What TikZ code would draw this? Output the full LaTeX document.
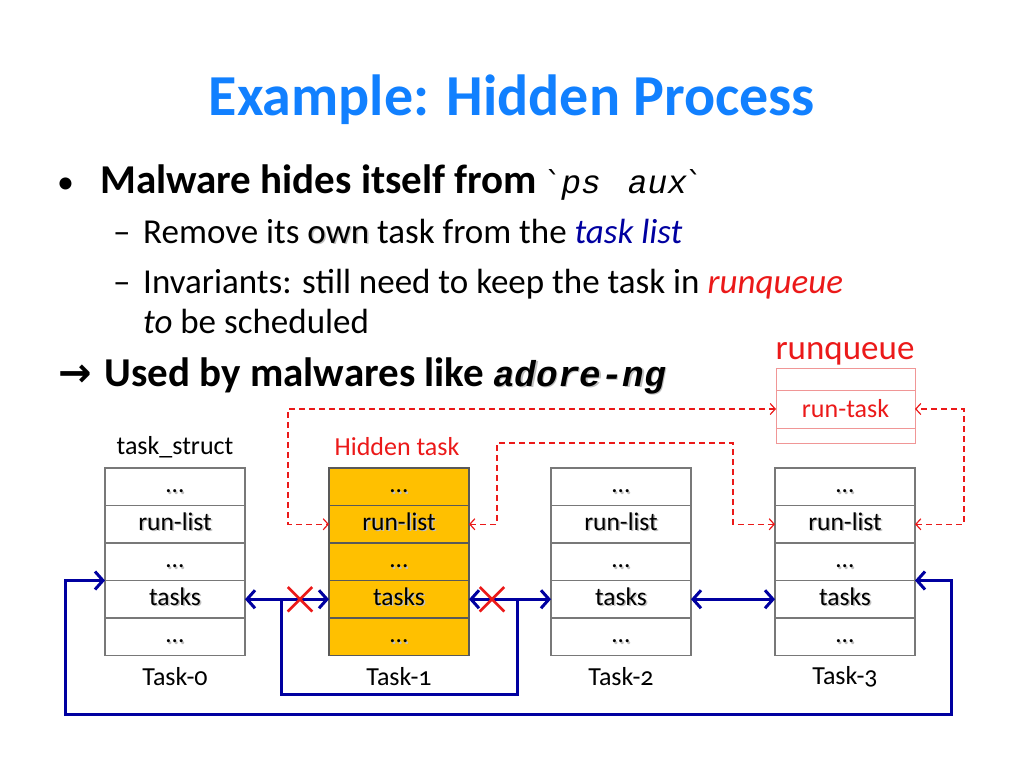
\documentclass[tikz,border=0pt]{standalone}
\usepackage{fontspec}
\setmainfont{Carlito}[Numbers=OldStyle]
\newfontfamily\monofont{Liberation Mono}
\newfontfamily\symfont{DejaVu Sans}
\usepackage{tikz}
\usetikzlibrary{arrows.meta,positioning,shapes.misc}
\definecolor{titleblue}{RGB}{17,128,255}
\definecolor{listblue}{RGB}{0,0,160}
\definecolor{qred}{RGB}{235,25,25}
\definecolor{hidden}{RGB}{255,192,0}
\definecolor{cellline}{RGB}{120,120,120}
\definecolor{qline}{RGB}{240,150,150}
\newcommand{\cellfont}{\fontsize{25.5}{30}\selectfont}
\newcommand{\shadowed}[1]{\rlap{\kern1.5pt\raisebox{-1.5pt}{\color{black!25}#1}}#1}

\begin{document}
\begin{tikzpicture}[x=1pt,y=-1pt,
    txt/.style={anchor=base west,inner sep=0pt},
    cell/.style={draw=cellline,line width=1.2pt,fill=white,minimum width=140pt,
        minimum height=37.5pt,inner sep=0pt,outer sep=0pt,text height=16pt,
        text depth=4pt,font=\cellfont},
    hiddencell/.style={cell,fill=hidden,draw=black!65},
    qcell/.style={draw=qline,line width=1pt,minimum width=139pt,inner sep=0pt,
        outer sep=0pt,text=qred,font=\fontsize{26}{30}\selectfont},
    lbl/.style={inner sep=0pt,font=\fontsize{26}{30}\selectfont},
    runlink/.style={qred,dash pattern=on 6pt off 4pt,line width=1.2pt,
        {Straight Barb[length=5pt,width=11pt]}-{Straight Barb[length=5pt,width=11pt]}},
    taskline/.style={listblue,line width=3pt},
    tasklink/.style={taskline,
        {Straight Barb[length=8pt,width=18pt]}-{Straight Barb[length=8pt,width=18pt]}},
    cutmark/.style={draw=qred,cross out,line width=2.5pt,minimum size=22pt,inner sep=0pt}]
    \useasboundingbox (0,0) rectangle (1024,768);

    % title and bullets
    \node[anchor=base,inner sep=0pt,text=titleblue,font=\fontsize{58}{66}\selectfont\bfseries]
        (title) at (512,115) {Example: Hidden Process};
    \node[txt,font=\fontsize{34}{40}\selectfont] (dot) at (57,193) {•};
    \node[txt,font=\fontsize{41}{48}\selectfont\bfseries] (line1) at (100,193)
        {Malware hides itself from {\mdseries\symfont\fontsize{30}{36}\selectfont ˋ}{\mdseries\monofont\itshape\fontsize{33}{40}\selectfont ps\kern7pt\ aux}{\mdseries\symfont\fontsize{30}{36}\selectfont ˋ}};
    \node[txt,font=\fontsize{35}{42}\selectfont] (dash1) at (113,243) {–};
    \node[txt,font=\fontsize{35}{42}\selectfont] (line2) at (143,243)
        {Remove its \shadowed{own} task from the {\color{listblue}\itshape task list}};
    \node[txt,font=\fontsize{35}{42}\selectfont] (dash2) at (113,293) {–};
    \node[txt,font=\fontsize{35}{42}\selectfont] (line3) at (143,293)
        {Invariants: still need to keep the task in {\color{qred}\itshape runqueue}};
    \node[txt,font=\fontsize{35}{42}\selectfont] (line4) at (143,333)
        {{\itshape to} be scheduled};
    \node[txt,font=\fontsize{41}{48}\selectfont\bfseries] (line5) at (58,386)
        {{\symfont\fontsize{40}{48}\selectfont →}\kern13pt Used by malwares like \shadowed{\monofont\itshape\fontsize{36}{44}\selectfont adore-ng}};

    % runqueue
    \node[anchor=base,inner sep=0pt,text=qred,font=\fontsize{35}{40}\selectfont]
        (rq-name) at (845,359) {runqueue};
    \node[qcell,minimum height=22pt] (rq-top) at (845.5,379) {};
    \node[qcell,minimum height=38pt,below=0pt of rq-top] (rq-task) {run-task};
    \node[qcell,minimum height=15pt,below=0pt of rq-task] (rq-bot) {};

    % task structs
    \foreach \i/\x/\kind in {0/175/cell,1/399/hiddencell,2/621/cell,3/845/cell}{
        \node[\kind] (t\i-a) at (\x,486.75) {\shadowed{…}};
        \node[\kind,below=0pt of t\i-a] (t\i-rl) {\shadowed{run-list}};
        \node[\kind,below=0pt of t\i-rl] (t\i-b) {\shadowed{…}};
        \node[\kind,below=0pt of t\i-b] (t\i-tk) {\shadowed{tasks}};
        \node[\kind,below=0pt of t\i-tk] (t\i-c) {\shadowed{…}};
        \node[lbl] (t\i-name) at (\x,677) {Task-\i};
    }
    \node[lbl] (struct) at (175,447) {task\_struct};
    \node[lbl,text=qred] (hide) at (397,447) {Hidden task};

    % run-list links
    \draw[runlink] (rq-task.west) -| (288,524.25) -- (t1-rl.west);
    \draw[runlink] (t1-rl.east) -| (497,443) -| (733,524.25) -- (t3-rl.west);
    \draw[runlink] (t3-rl.east) -- ++(49,0) |- (rq-task.east);

    % task list links
    \draw[tasklink] (t0-tk.east) -- (t1-tk.west);
    \draw[tasklink] (t1-tk.east) -- (t2-tk.west);
    \draw[tasklink] (t2-tk.east) -- (t3-tk.west);
    \draw[taskline] (281,599.25) |- (517,694) -- (517,599.25);
    \draw[tasklink] (t0-tk.north west) -- (65,580.5) |- (951,714) |- (t3-tk.north east);
    \node[cutmark] (cut1) at (300,599.25) {};
    \node[cutmark] (cut2) at (492,599.25) {};
\end{tikzpicture}
\end{document}
